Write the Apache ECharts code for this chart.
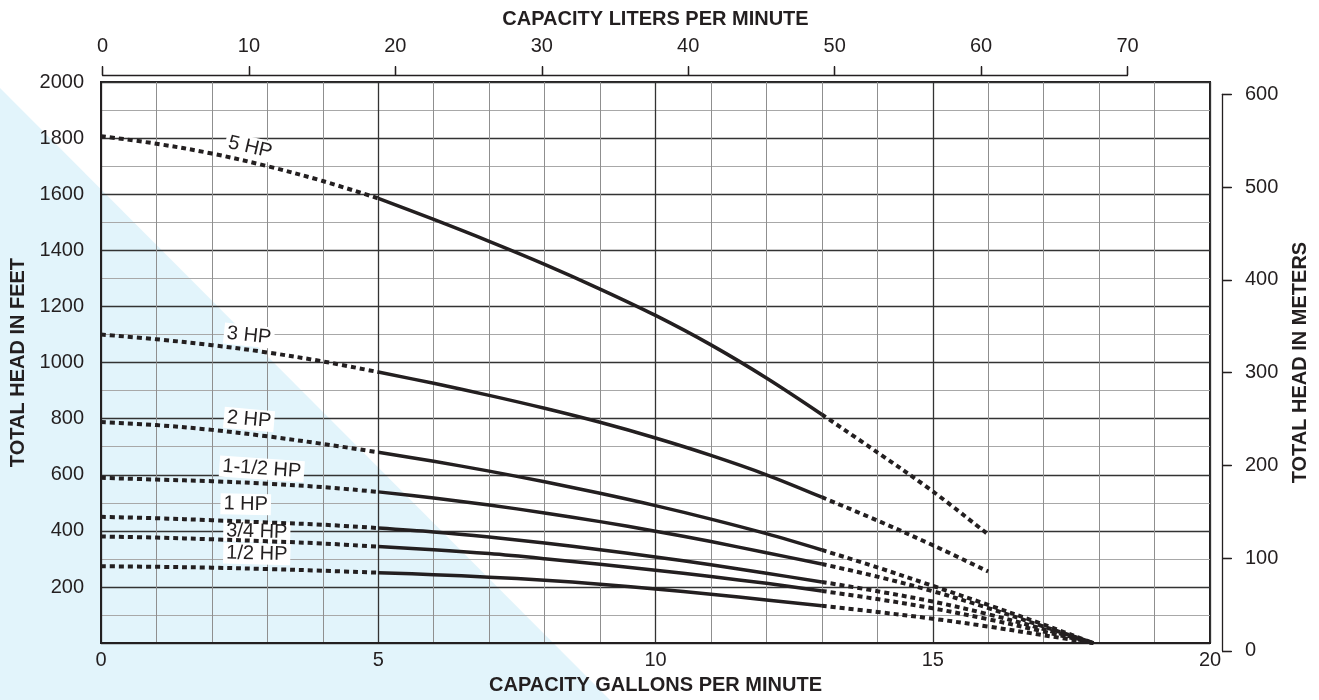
<!DOCTYPE html>
<html><head><meta charset="utf-8">
<script src="https://cdn.jsdelivr.net/npm/echarts@6/dist/echarts.min.js"></script>
<style>html,body{margin:0;padding:0;background:#fff}#c{width:1319px;height:700px}</style>
</head><body><div id="c"></div>
<script>
// Capacity in gallons per minute (x) and total head in feet for each motor size
const gpm    = [0, 1, 2, 3, 4, 5, 6, 7, 8, 9, 10, 11, 12, 13, 14, 15, 16, 17, 17.9];
const hp5    = [1807, 1780, 1745, 1700, 1647, 1585, 1510, 1432, 1350, 1262, 1168, 1063, 945, 815, 680, 541, 387];
const hp3    = [1100, 1083, 1062, 1036, 1004, 966, 926, 883, 837, 787, 731, 669, 600, 520, 437, 349, 255];
const hp2    = [788, 777, 760, 737, 710, 680, 648, 613, 575, 534, 490, 442, 390, 332, 270, 204, 136, 66, 0];
const hp1_5  = [589, 583, 577, 568, 556, 539, 517, 492, 464, 433, 399, 362, 322, 282, 237, 185, 125, 59, 0];
const hp1    = [450, 445, 438, 430, 422, 410, 396, 378, 357, 333, 307, 279, 249, 218, 185, 148, 103, 50, 0];
const hp3_4  = [380, 376, 370, 363, 355, 344, 333, 319, 301, 281, 260, 237, 213, 186, 157, 124, 85, 41, 0];
const hp1_2  = [274, 272, 269, 264, 258, 251, 244, 235, 224, 210, 193, 174, 154, 133, 111, 87, 59, 28, 0];
const curveNames = ['5 HP', '3 HP', '2 HP', '1-1/2 HP', '1 HP', '3/4 HP', '1/2 HP'];
const curveHeads = [hp5, hp3, hp2, hp1_5, hp1, hp3_4, hp1_2];
// recommended (solid) operating range, GPM
const solidFrom = 5, solidTo = 13;
// tick labels
const gpmTicks = [0, 5, 10, 15, 20];
const lpmTicks = [0, 10, 20, 30, 40, 50, 60, 70];
const feetTicks = [0, 200, 400, 600, 800, 1000, 1200, 1400, 1600, 1800, 2000];
const meterTicks = [0, 100, 200, 300, 400, 500, 600];

// label anchors (data coords) and angles
const labelAnchors = [[2.69, 1767, -13], [2.67, 1096, -6], [2.67, 797, -5], [2.90, 621, -4], [2.61, 495, -1], [2.81, 397, -2], [2.81, 318, -1.5]];

const INK = '#231f20';
const FONT = '"Liberation Sans", Arial, Helvetica, sans-serif';

const series = [];
curveHeads.forEach((heads, i) => {
  const pts = heads.map((h, k) => [gpm[k], h]);
  const segA = pts.filter(p => p[0] <= solidFrom);
  const segB = pts.filter(p => p[0] >= solidFrom && p[0] <= solidTo);
  const segC = pts.filter(p => p[0] >= solidTo);
  [[segA, true], [segB, false], [segC, true]].forEach(([seg, dashed]) => {
    series.push({
      type: 'line', name: curveNames[i], xAxisIndex: 0, yAxisIndex: 0,
      data: seg, showSymbol: false, symbol: 'none', smooth: 0.35, z: 3,
      silent: true, animation: false,
      lineStyle: dashed ? {color: INK, width: 4, type: [5, 4], cap: 'butt'} : {color: INK, width: 3.5, cap: 'butt'}
    });
  });
});
series.push({
  type: 'scatter', xAxisIndex: 0, yAxisIndex: 0, symbolSize: 0, z: 1, silent: true, animation: false,
  itemStyle: {opacity: 1},
  data: labelAnchors.map((a, i) => ({value: [a[0], a[1]], name: curveNames[i], label: {rotate: a[2]}})),
  label: {show: true, position: 'inside', formatter: p => p.name, fontSize: 20, fontFamily: FONT, color: INK,
          textBorderWidth: 0, textBorderColor: 'transparent', textShadowBlur: 0, opacity: 1,
          backgroundColor: '#ffffff', padding: [1, 3, 0, 3]}
});

const lbl = {fontSize: 20, fontFamily: FONT, color: INK};
const nameStyle = {fontSize: 20, fontWeight: 'bold', fontFamily: FONT, color: INK};

const option = {
  animation: false,
  backgroundColor: '#ffffff',
  graphic: [{type: 'polygon', z: -10, silent: true, shape: {points: [[0, 88], [0, 700], [610, 700]]}, style: {fill: '#e2f4fb'}}],
  grid: [
    {left: 101, top: 82, width: 1109, height: 568.5, show: true, borderColor: INK, borderWidth: 2, backgroundColor: 'transparent'},
    {left: 102.5, top: 66, width: 1025, height: 9},
    {left: 1222, top: 94.3, width: 9, height: 556.5}
  ],
  xAxis: [
    {gridIndex: 0, type: 'value', position: 'bottom', min: gpmTicks[0], max: gpmTicks[gpmTicks.length - 1], interval: 5,
     axisLine: {show: true, lineStyle: {color: INK, width: 2}}, axisTick: {show: false},
     axisLabel: Object.assign({margin: 7}, lbl),
     splitLine: {show: true, lineStyle: {color: '#333333', width: 1.3}},
     minorTick: {show: false, splitNumber: 5},
     minorSplitLine: {show: true, lineStyle: {color: '#8f8f8f', width: 1}},
     name: 'CAPACITY GALLONS PER MINUTE', nameLocation: 'middle', nameGap: 26, nameTextStyle: nameStyle},
    {gridIndex: 0, type: 'value', position: 'top', min: 0, max: 20,
     axisLine: {show: false}, axisTick: {show: false}, axisLabel: {show: false}, splitLine: {show: false},
     name: 'CAPACITY LITERS PER MINUTE', nameLocation: 'middle', nameGap: 53, nameTextStyle: nameStyle},
    {gridIndex: 1, type: 'value', position: 'top', min: lpmTicks[0], max: lpmTicks[lpmTicks.length - 1], interval: 10,
     axisLine: {show: true, lineStyle: {color: INK, width: 1.3}},
     axisTick: {show: true, inside: false, length: 8, lineStyle: {color: INK, width: 1.3}},
     axisLabel: Object.assign({margin: 10}, lbl), splitLine: {show: false}},
    {gridIndex: 1, type: 'value', position: 'bottom', min: 0, max: 70, interval: 10,
     axisLine: {show: false}, axisTick: {show: true, inside: true, length: 9, lineStyle: {color: INK, width: 1.3}},
     axisLabel: {show: false}, splitLine: {show: false}},
    {gridIndex: 2, type: 'value', show: false, min: 0, max: 1}
  ],
  yAxis: [
    {gridIndex: 0, type: 'value', position: 'left', min: feetTicks[0], max: feetTicks[feetTicks.length - 1], interval: 200,
     axisLine: {show: true, lineStyle: {color: INK, width: 2}}, axisTick: {show: false},
     axisLabel: Object.assign({margin: 17, formatter: v => v === 0 ? '' : String(v)}, lbl),
     splitLine: {show: true, lineStyle: {color: '#333333', width: 1.3}},
     minorTick: {show: false, splitNumber: 2},
     minorSplitLine: {show: true, lineStyle: {color: '#a8a8a8', width: 1}},
     name: 'TOTAL HEAD IN FEET', nameLocation: 'middle', nameGap: 72, nameRotate: 90, nameTextStyle: nameStyle},
    {gridIndex: 0, type: 'value', position: 'right', min: 0, max: 2000,
     axisLine: {show: false}, axisTick: {show: false}, axisLabel: {show: false}, splitLine: {show: false},
     name: 'TOTAL HEAD IN METERS', nameLocation: 'middle', nameGap: 80, nameRotate: 90, nameTextStyle: nameStyle},
    {gridIndex: 2, type: 'value', position: 'right', min: meterTicks[0], max: meterTicks[meterTicks.length - 1], interval: 100,
     axisLine: {show: true, lineStyle: {color: INK, width: 1.3}},
     axisTick: {show: true, inside: false, length: 10, lineStyle: {color: INK, width: 1.3}},
     axisLabel: Object.assign({margin: 14}, lbl), splitLine: {show: false}},
    {gridIndex: 2, type: 'value', position: 'left', min: 0, max: 600, interval: 100,
     axisLine: {show: false}, axisTick: {show: true, inside: true, length: 9, lineStyle: {color: INK, width: 1.3}},
     axisLabel: {show: false}, splitLine: {show: false}},
    {gridIndex: 1, type: 'value', show: false, min: 0, max: 1}
  ],
  series: series
};
const chart = echarts.init(document.getElementById('c'), null, {renderer: 'canvas'});
chart.setOption(option);
</script>
</body></html>
